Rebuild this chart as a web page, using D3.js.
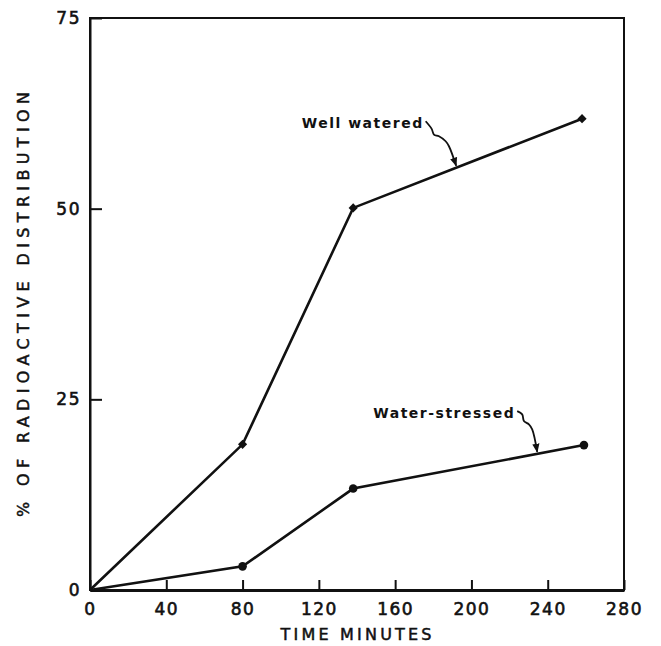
<!DOCTYPE html>
<html><head><meta charset="utf-8">
<script src="https://cdn.jsdelivr.net/npm/d3@7"></script>
<style>
body{margin:0;background:#fff;}
svg{display:block;}
text{font-family:"DejaVu Sans",sans-serif;fill:#111;}
</style></head>
<body>
<svg id="c" width="661" height="646"></svg>
<script>
// Data
const timeMinutes = [0, 80, 138, 258];
const timeMinutesStressed = [0, 80, 138, 259];
const wellWatered = [0, 19.1, 50.1, 61.8];
const waterStressed = [0, 3.1, 13.3, 19.0];
const xTicks = [0, 40, 80, 120, 160, 200, 240, 280];
const yTicks = [0, 25, 50, 75];
const xLabel = "TIME MINUTES";
const yLabel = "% OF RADIOACTIVE DISTRIBUTION";
const annotations = [
  {label: "Well watered", series: "well", textX: 176, textY: 61.2, tipX: 192,
   squiggle: [[0,0],[6,7.6],[8.3,13.3],[13.3,15],[20,20],[23.3,25],[28.3,43.3]]},
  {label: "Water-stressed", series: "stressed", textX: 224, textY: 23.2, tipX: 234.5,
   squiggle: [[0,0],[5,3.3],[6.7,10],[11.7,13.3],[15,18.3],[18.3,40]]}
];

const svg = d3.select("#c");
const x = d3.scaleLinear().domain([0, 280]).range([90, 624]);
const y = d3.scaleLinear().domain([0, 75]).range([590, 18]);

// Frame
svg.append("rect").attr("x", x(0)).attr("y", y(75))
  .attr("width", x(280) - x(0)).attr("height", y(0) - y(75))
  .attr("fill", "none").attr("stroke", "#111").attr("stroke-width", 2);

// X axis
const xa = svg.append("g").attr("transform", `translate(0,${y(0)})`)
  .call(d3.axisBottom(x).tickValues(xTicks).tickSizeInner(-10).tickSizeOuter(0).tickPadding(13).tickFormat(d3.format("d")));
xa.select(".domain").attr("stroke", "#111").attr("stroke-width", 3);
xa.selectAll(".tick line").attr("stroke", "#111").attr("stroke-width", 2);
xa.selectAll(".tick text").attr("font-size", 17).attr("fill", "#111")
  .attr("stroke", "#111").attr("stroke-width", 0.6)
  .attr("font-family", "DejaVu Sans").style("letter-spacing", "1.5px");

// Y axis
const ya = svg.append("g").attr("transform", `translate(${x(0)},0)`)
  .call(d3.axisLeft(y).tickValues(yTicks).tickSizeInner(-12).tickSizeOuter(0).tickPadding(9).tickFormat(d3.format("d")));
ya.select(".domain").attr("stroke", "#111").attr("stroke-width", 2);
ya.selectAll(".tick line").attr("stroke", "#111").attr("stroke-width", 2);
ya.selectAll(".tick text").attr("font-size", 17).attr("fill", "#111")
  .attr("stroke", "#111").attr("stroke-width", 0.6)
  .attr("font-family", "DejaVu Sans").style("letter-spacing", "1.5px");

// Axis titles
svg.append("text").attr("x", (x(0) + x(280)) / 2 - 1).attr("y", 640)
  .attr("text-anchor", "middle").attr("font-size", 16)
  .attr("stroke", "#111").attr("stroke-width", 0.5)
  .attr("textLength", 151).attr("lengthAdjust", "spacing").text(xLabel);
svg.append("text").attr("transform", `translate(29,${(92 + 517) / 2}) rotate(-90)`)
  .attr("text-anchor", "middle").attr("font-size", 16)
  .attr("stroke", "#111").attr("stroke-width", 0.5)
  .attr("textLength", 425).attr("lengthAdjust", "spacing").text(yLabel);

// Lines
const line = d3.line().x(d => x(d[0])).y(d => y(d[1]));
const wellPts = timeMinutes.map((t, i) => [t, wellWatered[i]]);
const stressPts = timeMinutesStressed.map((t, i) => [t, waterStressed[i]]);
[wellPts, stressPts].forEach(pts => {
  svg.append("path").datum(pts).attr("d", line)
    .attr("fill", "none").attr("stroke", "#111").attr("stroke-width", 2.6);
});
// Markers
svg.selectAll(".mw").data(wellPts.slice(1)).enter().append("path")
  .attr("transform", d => `translate(${x(d[0])},${y(d[1])}) rotate(45)`)
  .attr("d", d3.symbol(d3.symbolSquare, 42)).attr("fill", "#111");
svg.selectAll(".ms").data(stressPts.slice(1)).enter().append("circle")
  .attr("cx", d => x(d[0])).attr("cy", d => y(d[1])).attr("r", 4.3).attr("fill", "#111");

// Annotations
svg.append("defs").append("marker").attr("id", "ah")
  .attr("viewBox", "0 0 10 10").attr("refX", 9).attr("refY", 5)
  .attr("markerWidth", 9).attr("markerHeight", 9).attr("markerUnits", "userSpaceOnUse")
  .attr("orient", "auto")
  .append("path").attr("d", "M0,1 L10,5 L0,9 Z").attr("fill", "#111");

function interp(pts, t) {
  for (let i = 1; i < pts.length; i++) {
    if (t <= pts[i][0]) {
      const a = pts[i-1], b = pts[i];
      return a[1] + (b[1] - a[1]) * (t - a[0]) / (b[0] - a[0]);
    }
  }
  return pts[pts.length-1][1];
}
const sq = d3.line().curve(d3.curveCatmullRom);
annotations.forEach(a => {
  const pts = a.series === "well" ? wellPts : stressPts;
  const tx = x(a.textX), ty = y(a.textY);
  svg.append("text").attr("x", tx - 2).attr("y", ty + 5)
    .attr("text-anchor", "end").attr("font-size", 14).attr("font-weight", "bold")
    .style("letter-spacing", "1.5px").text(a.label);
  const tipX = x(a.tipX), tipY = y(interp(pts, a.tipX)) - 2;
  const s = a.squiggle.map(p => [tx + p[0], ty - 2 + p[1]]);
  s[s.length - 1] = [tipX, tipY];
  svg.append("path").attr("d", sq(s)).attr("fill", "none")
    .attr("stroke", "#111").attr("stroke-width", 1.8).attr("marker-end", "url(#ah)");
});
</script>
</body></html>
